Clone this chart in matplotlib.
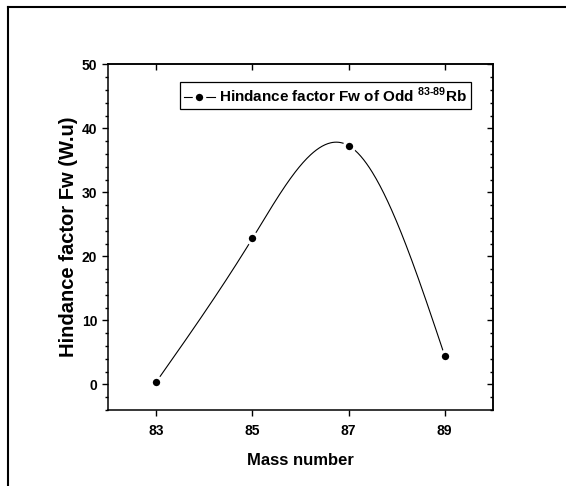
import numpy as np
import matplotlib
matplotlib.use("Agg")
import matplotlib.pyplot as plt
from matplotlib.lines import Line2D

plt.rcParams["font.family"] = ["Liberation Sans", "DejaVu Sans"]
plt.rcParams["font.weight"] = "bold"
plt.rcParams["mathtext.fontset"] = "custom"
plt.rcParams["mathtext.rm"] = "Liberation Sans:bold"
plt.rcParams["mathtext.bf"] = "Liberation Sans:bold"

# Data
mass_number = [83, 85, 87, 89]
hindrance_fw = [0.4, 22.8, 37.3, 4.5]
x_ticks = [83, 85, 87, 89]
y_ticks = [0, 10, 20, 30, 40, 50]
legend_label = r"Hindance factor Fw of Odd $^{\mathregular{83\text{-}89}}$Rb"


def natural_spline(x, y, n=300):
    # natural cubic spline through the points (like Origin's spline connect)
    x = np.asarray(x, float)
    y = np.asarray(y, float)
    k = len(x)
    h = np.diff(x)
    A = np.zeros((k, k))
    b = np.zeros(k)
    A[0, 0] = A[-1, -1] = 1
    for i in range(1, k - 1):
        A[i, i - 1] = h[i - 1]
        A[i, i] = 2 * (h[i - 1] + h[i])
        A[i, i + 1] = h[i]
        b[i] = 6 * ((y[i + 1] - y[i]) / h[i] - (y[i] - y[i - 1]) / h[i - 1])
    M = np.linalg.solve(A, b)
    xs = np.linspace(x[0], x[-1], n)
    idx = np.clip(np.searchsorted(x, xs) - 1, 0, k - 2)
    x0, x1 = x[idx], x[idx + 1]
    hh = x1 - x0
    ys = (M[idx] * (x1 - xs) ** 3 / (6 * hh) + M[idx + 1] * (xs - x0) ** 3 / (6 * hh)
          + (y[idx] / hh - M[idx] * hh / 6) * (x1 - xs)
          + (y[idx + 1] / hh - M[idx + 1] * hh / 6) * (xs - x0))
    return xs, ys


fig = plt.figure(figsize=(5.66, 4.86), dpi=100)
ax = fig.add_axes([0.1913, 0.1564, 0.6792, 0.7113])

xs, ys = natural_spline(mass_number, hindrance_fw)
ax.plot(xs, ys, color="black", lw=0.8, zorder=2)
ax.plot(mass_number, hindrance_fw, "o", ms=7.5, mfc="black", mec="white",
        mew=2.2, zorder=3)

ax.set_xlim(82, 90)
ax.set_ylim(-4, 50)
ax.set_xticks(x_ticks)
ax.set_yticks(y_ticks)
ax.set_yticks(np.arange(-4, 51, 2), minor=True)
ax.tick_params(axis="both", which="major", direction="out", length=4, width=1,
               labelsize=10)
ax.tick_params(axis="x", which="major", pad=6)
ax.tick_params(axis="y", which="major", pad=4)
ax.tick_params(axis="y", which="minor", direction="out", length=2.3, width=1)
for lab in ax.get_xticklabels() + ax.get_yticklabels():
    lab.set_fontweight("bold")

# mirrored ticks on top / right point inward
top = ax.secondary_xaxis("top")
top.set_xticks(x_ticks)
top.tick_params(direction="in", length=4, width=1, labeltop=False)
right = ax.secondary_yaxis("right")
right.set_yticks(y_ticks)
right.set_yticks(np.arange(-4, 51, 2), minor=True)
right.tick_params(which="major", direction="in", length=4, width=1, labelright=False)
right.tick_params(which="minor", direction="in", length=2.3, width=1)
for sp in list(ax.spines.values()) + [top.spines["top"], right.spines["right"]]:
    sp.set_linewidth(1.1)

ax.set_xlabel("Mass number", fontsize=12, fontweight="bold")
ax.set_ylabel("Hindance factor Fw (W.u)", fontsize=14.5, fontweight="bold")
ax.xaxis.set_label_coords(0.5, -0.125)
ax.yaxis.set_label_coords(-0.078, 0.5)

handle = Line2D([], [], color="black", lw=0.8, marker="o", ms=7.5, mfc="black",
                mec="white", mew=2.2)
leg = ax.legend([handle], [legend_label], loc="upper right",
                bbox_to_anchor=(0.9435, 0.9488), borderaxespad=0,
                fancybox=False, framealpha=1, edgecolor="black",
                prop={"size": 11, "weight": "bold"}, handlelength=2.0,
                handletextpad=0.3, borderpad=0.25)
leg.get_frame().set_linewidth(0.9)

# page frame (top and left border lines)
fig.add_artist(Line2D([0.0133, 1.0], [0.9846, 0.9846], color="black", lw=1.5,
                      transform=fig.transFigure))
fig.add_artist(Line2D([0.0133, 0.0133], [0.0, 0.9846], color="black", lw=1.5,
                      transform=fig.transFigure))

fig.savefig("out.png", dpi=100)
